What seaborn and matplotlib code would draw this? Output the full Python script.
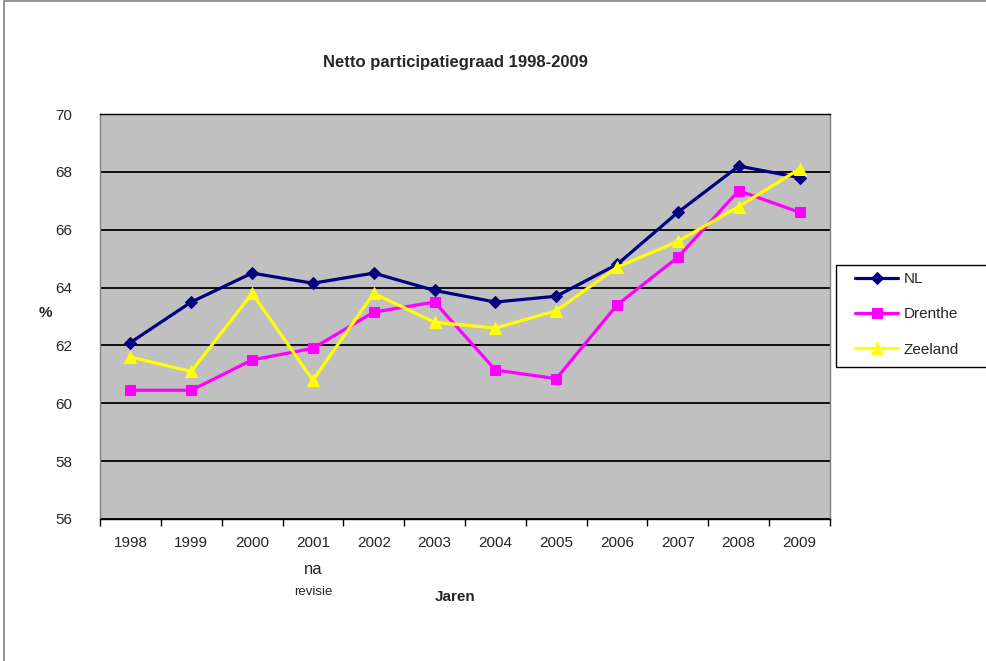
import numpy as np
import pandas as pd
import matplotlib
matplotlib.use("Agg")
import matplotlib.pyplot as plt
import matplotlib.patches as mpatches
import seaborn as sns

# Data
years = ["1998", "1999", "2000", "2001", "2002", "2003",
         "2004", "2005", "2006", "2007", "2008", "2009"]
nl = [62.1, 63.5, 64.5, 64.15, 64.5, 63.9, 63.5, 63.7, 64.8, 66.6, 68.2, 67.8]
drenthe = [60.45, 60.45, 61.5, 61.9, 63.15, 63.5, 61.15, 60.85, 63.4, 65.05, 67.35, 66.6]
zeeland = [61.6, 61.1, 63.8, 60.8, 63.8, 62.8, 62.6, 63.2, 64.7, 65.6, 66.8, 68.1]
y_ticks = [56, 58, 60, 62, 64, 66, 68, 70]

series = {"NL": nl, "Drenthe": drenthe, "Zeeland": zeeland}
colors = {"NL": "#000080", "Drenthe": "#FF00FF", "Zeeland": "#FFFF00"}
markers = {"NL": "D", "Drenthe": "s", "Zeeland": "^"}
msizes = {"NL": 6, "Drenthe": 7, "Zeeland": 8.5}

df = pd.DataFrame([
    {"Jaar": yr, "Regio": name, "Waarde": v}
    for name, vals in series.items()
    for yr, v in zip(years, vals)
])

sns.set_style("white")
plt.rcParams["font.family"] = ["Liberation Sans", "DejaVu Sans"]

fig = plt.figure(figsize=(9.86, 6.61), dpi=100)
ax = fig.add_axes([100 / 986, 1 - 519 / 661, 730 / 986, 405 / 661])
ax.set_facecolor("#C0C0C0")

handles = []
for name in series:
    sub = df[df["Regio"] == name]
    sns.lineplot(data=sub, x="Jaar", y="Waarde", ax=ax, sort=False,
                 color=colors[name], linewidth=2.3, marker=markers[name],
                 markersize=msizes[name], markeredgecolor=colors[name],
                 legend=False, zorder=3)
    handles.append(ax.lines[-1])

ax.set_xlim(-0.5, len(years) - 0.5)
ax.set_ylim(56, 70)
ax.set_yticks(y_ticks)
ax.set_yticklabels([str(t) for t in y_ticks], fontsize=11)
ax.yaxis.grid(True, color="black", linewidth=1.3, zorder=1)
ax.xaxis.grid(False)
ax.set_axisbelow(True)

# ticks at category boundaries, labels at category centres
ax.set_xticks(np.arange(len(years) + 1) - 0.5)
ax.set_xticklabels([""] * (len(years) + 1))
ax.set_xticks(np.arange(len(years)), minor=True)
ax.set_xticklabels(years, minor=True, fontsize=11)
ax.tick_params(axis="x", which="major", direction="out", length=5, width=1, color="black", bottom=True)
ax.tick_params(axis="x", which="minor", length=0, pad=12)
ax.tick_params(axis="y", length=0, left=False, pad=20)
for s in ax.spines.values():
    s.set_linewidth(1)
ax.spines["bottom"].set_color("black")
ax.spines["top"].set_color("black")
ax.spines["left"].set_color("#808080")
ax.spines["right"].set_color("#808080")

ax.set_xlabel("")
ax.set_ylabel("")

fig.text(455 / 986, 1 - 62 / 661, "Netto participatiegraad 1998-2009",
         ha="center", va="center", fontsize=12, fontweight="bold")
fig.text(455 / 986, 1 - 597 / 661, "Jaren", ha="center", va="center",
         fontsize=11, fontweight="bold")
fig.text(45 / 986, 1 - 313 / 661, "%", ha="center", va="center",
         fontsize=11, fontweight="bold")
fig.text(313 / 986, 1 - 570 / 661, "na", ha="center", va="center", fontsize=12)
fig.text(313 / 986, 1 - 592 / 661, "revisie", ha="center", va="center", fontsize=9.5)

# legend box (frame drawn separately so it runs off the right edge)
fig.patches.append(mpatches.Rectangle((836 / 986, 1 - 367 / 661), 200 / 986, 102 / 661,
                                      transform=fig.transFigure, facecolor="white",
                                      edgecolor="black", linewidth=1, clip_on=False,
                                      zorder=4))
leg = fig.legend(handles, list(series.keys()), loc="upper left",
                 bbox_to_anchor=(847 / 986, 1 - 264 / 661),
                 bbox_transform=fig.transFigure, borderaxespad=0,
                 fontsize=11, frameon=False, handlelength=2.8,
                 labelspacing=1.38, borderpad=0.55, handletextpad=0.35)
leg.set_zorder(5)

# outer chart border
fig.patches.append(mpatches.Rectangle((4 / 986, -0.05), 1.2, 1 - 1.5 / 661 + 0.05,
                                      transform=fig.transFigure, fill=False,
                                      edgecolor="#808080", linewidth=1.2,
                                      clip_on=False))

fig.savefig("out.png", dpi=100, facecolor="white")
